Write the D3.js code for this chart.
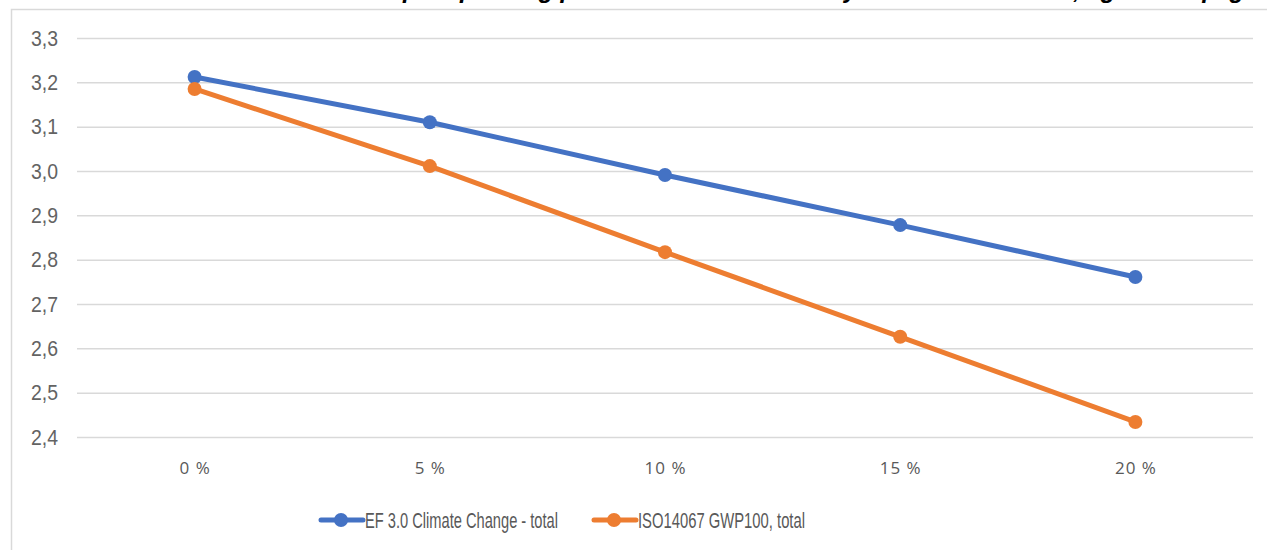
<!DOCTYPE html>
<html>
<head>
<meta charset="utf-8">
<script src="https://cdn.jsdelivr.net/npm/d3@7"></script>
<style>
  html, body { margin: 0; padding: 0; background: #fff; }
  svg { display: block; }
</style>
</head>
<body>
<svg id="chart" width="1267" height="550"></svg>
<script>
// Recycled share on the x axis
const categories = ["0 %", "5 %", "10 %", "15 %", "20 %"];
// Climate change results per method
const seriesNames = ["EF 3.0 Climate Change - total", "ISO14067 GWP100, total"];
const efValues = [3.212, 3.110, 2.991, 2.878, 2.761];
const isoValues = [3.185, 3.011, 2.817, 2.626, 2.434];
const yTicks = [2.4, 2.5, 2.6, 2.7, 2.8, 2.9, 3.0, 3.1, 3.2, 3.3];
const titleText = "Climate impact per 1 kg product at increased recycled content share, kg CO2-eq/kg";

const colors = ["#4472C4", "#ED7D31"];
const series = [
  { name: seriesNames[0], values: efValues, color: colors[0], width: 193 },
  { name: seriesNames[1], values: isoValues, color: colors[1], width: 167 }
];

const narrow = "'Liberation Sans', Arial, sans-serif";
const svg = d3.select("#chart");
const W = 1267, H = 550;
const plot = { left: 77, right: 1253, top: 38, bottom: 437 };

// Title sits above the frame, mostly outside the visible area
svg.append("text")
  .attr("x", 762).attr("y", -2)
  .attr("text-anchor", "middle")
  .attr("textLength", 965)
  .attr("lengthAdjust", "spacingAndGlyphs")
  .style("font-family", "'Liberation Sans', Arial, sans-serif")
  .style("font-size", "26px")
  .style("font-weight", "bold")
  .style("font-style", "italic")
  .attr("fill", "#000")
  .text(titleText);

// Chart frame
svg.append("path")
  .attr("d", `M11.5,${H} L11.5,9.5 L${W},9.5`)
  .attr("fill", "none")
  .attr("stroke", "#d9d9d9")
  .attr("stroke-width", 1.5);

const x = d3.scalePoint().domain(categories).range([plot.left, plot.right]).padding(0.5);
const y = d3.scaleLinear().domain([2.4, 3.3]).range([plot.bottom, plot.top]);

// Gridlines + y labels
const yAxis = d3.axisLeft(y)
  .tickValues(yTicks)
  .tickSize(-(plot.right - plot.left))
  .tickPadding(19)
  .tickFormat(d => d3.format(".1f")(d).replace(".", ","));

const gy = svg.append("g")
  .attr("transform", `translate(${plot.left},0)`)
  .call(yAxis);
gy.select(".domain").remove();
gy.selectAll(".tick line").attr("stroke", "#d9d9d9").attr("stroke-width", 1.5);
gy.selectAll(".tick text")
  .attr("fill", "#636363")
  .attr("textLength", 27)
  .attr("lengthAdjust", "spacingAndGlyphs")
  .style("font-family", narrow)
  .style("font-size", "22px");

// x labels
const xAxis = d3.axisBottom(x).tickSize(0).tickPadding(25);
const gx = svg.append("g")
  .attr("transform", `translate(0,${plot.bottom})`)
  .call(xAxis);
gx.select(".domain").remove();
gx.selectAll(".tick text")
  .attr("fill", "#595959")
  .style("font-family", "'Open Sans', 'Noto Sans', sans-serif")
  .style("font-size", "17px")
  .style("letter-spacing", "1px");

// Lines and markers
const line = d3.line()
  .x((d, i) => x(categories[i]))
  .y(d => y(d));

series.forEach(s => {
  svg.append("path")
    .datum(s.values)
    .attr("d", line)
    .attr("fill", "none")
    .attr("stroke", s.color)
    .attr("stroke-width", 5)
    .attr("stroke-linejoin", "round")
    .attr("stroke-linecap", "round");
  svg.append("g").selectAll("circle")
    .data(s.values)
    .join("circle")
    .attr("cx", (d, i) => x(categories[i]))
    .attr("cy", d => y(d))
    .attr("r", 7)
    .attr("fill", s.color);
});

// Legend
const legendItems = [
  { x: 321, s: series[0] },
  { x: 594, s: series[1] }
];
legendItems.forEach(item => {
  const g = svg.append("g").attr("transform", `translate(${item.x},520)`);
  g.append("line")
    .attr("x1", 0).attr("x2", 42)
    .attr("y1", 0).attr("y2", 0)
    .attr("stroke", item.s.color)
    .attr("stroke-width", 5)
    .attr("stroke-linecap", "round");
  g.append("circle").attr("cx", 20).attr("cy", 0).attr("r", 7).attr("fill", item.s.color);
  g.append("text")
    .attr("x", 44).attr("y", 8)
    .attr("fill", "#595959")
    .attr("textLength", item.s.width)
    .attr("lengthAdjust", "spacingAndGlyphs")
    .style("font-family", narrow)
    .style("font-size", "22px")
    .text(item.s.name);
});
</script>
</body>
</html>
